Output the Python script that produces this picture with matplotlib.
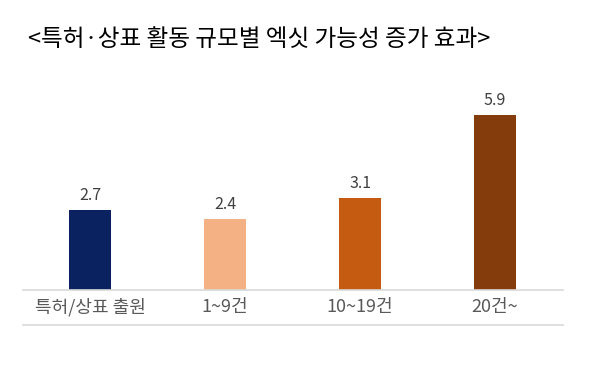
import matplotlib
matplotlib.use("Agg")
import matplotlib.pyplot as plt
from matplotlib.lines import Line2D

plt.rcParams['font.family'] = ['Noto Sans CJK KR', 'DejaVu Sans']

categories = ["특허/상표 출원", "1~9건", "10~19건", "20건~"]
values = [2.7, 2.4, 3.1, 5.9]
bar_colors = ["#0B2260", "#F4B183", "#C55A11", "#843C0C"]
title = "<특허·상표 활동 규모별 엑싯 가능성 증가 효과>"

W, H = 591, 372
fig = plt.figure(figsize=(W / 100, H / 100), dpi=100)
fig.patch.set_facecolor("white")

# axes placed so that baseline sits around y=290px
ax = fig.add_axes([22.5 / W, (H - 290) / H, 540 / W, 208 / H])
x = list(range(len(categories)))
bars = ax.bar(x, values, width=42 / 135, color=bar_colors, zorder=2)
ax.set_xlim(-0.5, 3.5)
ax.set_ylim(0, 7)

for rect, v in zip(bars, values):
    ax.annotate(f"{v:.1f}", (rect.get_x() + rect.get_width() / 2, v),
                xytext=(0, 4), textcoords="offset points",
                ha="center", va="bottom", fontsize=11.5, color="#404040",
                fontweight="medium")

ax.set_xticks(x)
ax.set_xticklabels(categories, fontsize=13, color="#595959")
ax.tick_params(axis="x", length=0, pad=6)
ax.set_yticks([])
for side in ["top", "right", "left"]:
    ax.spines[side].set_visible(False)
ax.spines["bottom"].set_color("#D9D9D9")
ax.spines["bottom"].set_linewidth(1.2)

# lower rule under the category labels
fig.add_artist(Line2D([22.5 / W, 562.5 / W], [(H - 325) / H] * 2,
                      color="#D9D9D9", linewidth=1.2))

fig.text(259 / W, 1 - 39 / H, title, ha="center", va="center",
         fontsize=17, color="black", fontweight="medium")

fig.savefig("out.png", dpi=100, facecolor="white")
